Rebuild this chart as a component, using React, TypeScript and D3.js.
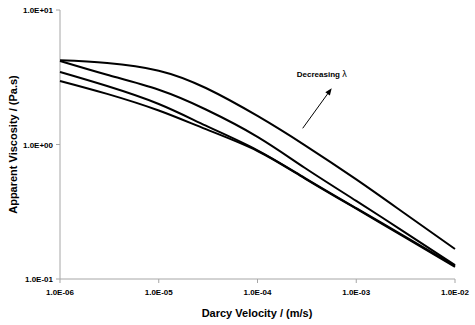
import React from "react";
import * as d3 from "d3";

// Darcy velocity (m/s)
const velocity = [1e-6, 3e-6, 1e-5, 3e-5, 1e-4, 3e-4, 1e-3, 3e-3, 1e-2];
// Apparent viscosity (Pa.s) for four lambda values
const seriesA = [4.23, 4.04, 3.54, 2.63, 1.63, 0.99, 0.55, 0.312, 0.167];
const seriesB = [4.18, 3.3, 2.55, 1.82, 1.14, 0.672, 0.381, 0.226, 0.127];
const seriesC = [3.46, 2.72, 2.0, 1.38, 0.906, 0.565, 0.336, 0.21, 0.125];
const seriesD = [2.97, 2.38, 1.79, 1.3, 0.895, 0.56, 0.333, 0.207, 0.123];
const allSeries = [seriesA, seriesB, seriesC, seriesD];

const xTicks = [1e-6, 1e-5, 1e-4, 1e-3, 1e-2];
const xTickLabels = ["1.0E-06", "1.0E-05", "1.0E-04", "1.0E-03", "1.0E-02"];
const yTicks = [0.1, 1, 10];
const yTickLabels = ["1.0E-01", "1.0E+00", "1.0E+01"];

const xTitle = "Darcy Velocity / (m/s)";
const yTitle = "Apparent Viscosity / (Pa.s)";
const annotationText = "Decreasing ";
const annotationSymbol = "λ";
// annotation anchor points in data coordinates
const annotationPos = [2.5e-4, 3.18];
const arrowFrom = [2.87e-4, 1.32];
const arrowTo = [5.64e-4, 2.62];

const W = 475;
const H = 325;
const FONT = "'Liberation Sans', Arial, Helvetica, sans-serif";
const AXIS = "#a6a6a6";

export default function App() {
  const x = d3.scaleLog().domain([1e-6, 1e-2]).range([60, 455]);
  const y = d3.scaleLog().domain([0.1, 10]).range([279, 10]);

  const line = d3
    .line<number>()
    .x((_, i) => x(velocity[i]))
    .y((d) => y(d))
    .curve(d3.curveNatural);

  const x0 = x(1e-6);
  const yB = y(0.1);

  const ax = x(arrowFrom[0]);
  const ay = y(arrowFrom[1]);
  const bx = x(arrowTo[0]);
  const by = y(arrowTo[1]);
  const ang = Math.atan2(by - ay, bx - ax);
  const hl = 7;
  const hw = 2.8;
  const p1 = [bx - hl * Math.cos(ang) + hw * Math.sin(ang), by - hl * Math.sin(ang) - hw * Math.cos(ang)];
  const p2 = [bx - hl * Math.cos(ang) - hw * Math.sin(ang), by - hl * Math.sin(ang) + hw * Math.cos(ang)];
  const lx = bx - (hl - 1) * Math.cos(ang);
  const ly = by - (hl - 1) * Math.sin(ang);

  return (
    <svg
      width={W}
      height={H}
      style={{ position: "absolute", left: 0, top: 0, background: "#fff" }}
      fontFamily={FONT}
    >
      {/* axes */}
      <line x1={x0} x2={x0} y1={y(10)} y2={yB} stroke={AXIS} strokeWidth={1} />
      <line x1={x0} x2={x(1e-2)} y1={yB} y2={yB} stroke={AXIS} strokeWidth={1} />
      {yTicks.map((t, i) => (
        <g key={"y" + i}>
          <line x1={x0 - 4} x2={x0} y1={y(t)} y2={y(t)} stroke={AXIS} strokeWidth={1} />
          <text x={x0 - 7} y={y(t) + 3} textAnchor="end" fontSize={8} fontWeight="bold" fill="#000">
            {yTickLabels[i]}
          </text>
        </g>
      ))}
      {xTicks.map((t, i) => (
        <g key={"x" + i}>
          <line x1={x(t)} x2={x(t)} y1={yB} y2={yB + 4} stroke={AXIS} strokeWidth={1} />
          <text x={x(t)} y={yB + 16} textAnchor="middle" fontSize={8} fontWeight="bold" fill="#000">
            {xTickLabels[i]}
          </text>
        </g>
      ))}
      <text x={257} y={317} textAnchor="middle" fontSize={11} fontWeight="bold" fill="#000">
        {xTitle}
      </text>
      <text
        transform={`translate(17,${(y(10) + yB) / 2}) rotate(-90)`}
        textAnchor="middle"
        fontSize={11}
        fontWeight="bold"
        fill="#000"
      >
        {yTitle}
      </text>

      {/* curves */}
      {allSeries.map((s, i) => (
        <path key={i} d={line(s) || ""} fill="none" stroke="#000" strokeWidth={2} />
      ))}

      {/* annotation */}
      <text x={x(annotationPos[0])} y={y(annotationPos[1])} fontSize={8} fontWeight="bold" fill="#000">
        {annotationText}
        <tspan fontWeight="normal" fontSize={9}>{annotationSymbol}</tspan>
      </text>
      <line x1={ax} y1={ay} x2={lx} y2={ly} stroke="#000" strokeWidth={1} />
      <polygon points={`${bx},${by} ${p1[0]},${p1[1]} ${p2[0]},${p2[1]}`} fill="#000" />
    </svg>
  );
}
